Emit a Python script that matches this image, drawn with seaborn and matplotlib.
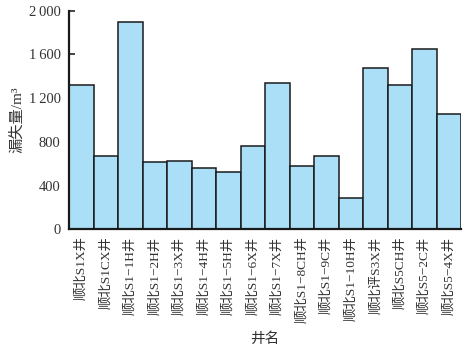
import pandas as pd
import matplotlib
matplotlib.use('Agg')
import matplotlib.pyplot as plt
import seaborn as sns

sns.set_style("ticks")
plt.rcParams['font.family'] = ['Liberation Serif', 'Noto Sans CJK SC', 'DejaVu Sans']

# data
wells = ['顺北S1X井', '顺北S1CX井', '顺北S1−1H井', '顺北S1−2H井', '顺北S1−3X井',
         '顺北S1−4H井', '顺北S1−5H井', '顺北S1−6X井', '顺北S1−7X井', '顺北S1−8CH井',
         '顺北S1−9C井', '顺北S1−10H井', '顺北评S3X井', '顺北S5CH井', '顺北S5−2C井',
         '顺北S5−4X井']
loss = [1317, 671, 1894, 613, 622, 558, 521, 762, 1336, 579, 671, 284, 1473, 1317, 1647, 1052]
yticks = [0, 400, 800, 1200, 1600, 2000]
ytick_labels = ['0', '400', '800', '1\u2009200', '1\u2009600', '2\u2009000']

df = pd.DataFrame({'well': wells, 'loss': loss})

fig = plt.figure(figsize=(4.76, 3.53), dpi=100)
ax = fig.add_axes([0.145, 0.350, 0.824, 0.620])
sns.barplot(data=df, x='well', y='loss', color='#abdff8', saturation=1,
            width=1, edgecolor='#1a1a1a', linewidth=1.1, ax=ax)

ax.set_xlim(-0.5, len(wells) - 0.5)
ax.set_ylim(0, 2000)
ax.set_yticks(yticks)
ax.set_yticklabels(ytick_labels)
ax.set_xticks(range(len(wells)))
ax.set_xticklabels(wells, rotation=90, fontsize=9.6, color='#333333')
ax.tick_params(axis='y', direction='in', length=4, width=1.2, labelsize=10.5,
               labelcolor='#333333', pad=6)
ax.tick_params(axis='x', length=0, pad=5)
ax.set_xlabel('井名', fontsize=10.5, color='#333333', labelpad=6)
ax.set_ylabel('漏失量/m³', fontsize=11, color='#333333', labelpad=3)
sns.despine(ax=ax, top=True, right=True)
for s in ['left', 'bottom']:
    ax.spines[s].set_linewidth(1.6)
    ax.spines[s].set_color('#1a1a1a')

fig.savefig('out.png', dpi=100)
